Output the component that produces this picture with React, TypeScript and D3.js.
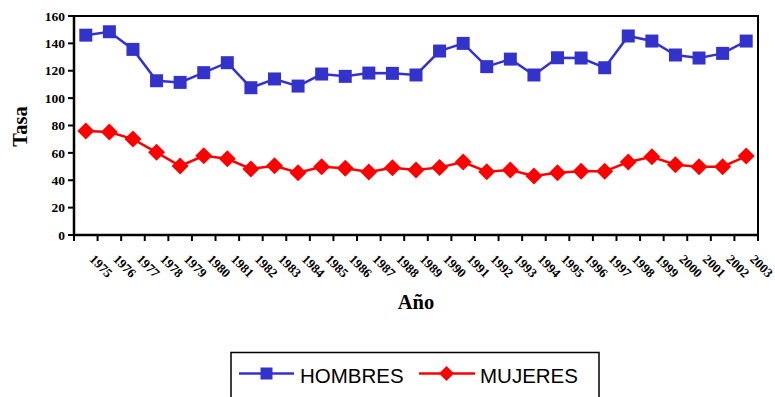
import React from "react";
import * as d3 from "d3";

// Annual rates by sex, 1975–2003
const years: string[] = [
  "1975", "1976", "1977", "1978", "1979", "1980", "1981", "1982", "1983", "1984",
  "1985", "1986", "1987", "1988", "1989", "1990", "1991", "1992", "1993", "1994",
  "1995", "1996", "1997", "1998", "1999", "2000", "2001", "2002", "2003",
];
const hombres: number[] = [
  146, 148.5, 135.6, 112.7, 111.5, 118.6, 125.9, 107.6, 114, 108.8,
  117.6, 115.9, 118.3, 118.1, 116.9, 134.4, 140, 123, 128.5, 116.9,
  129.5, 129.3, 122.2, 145.4, 141.7, 131.5, 129.3, 132.7, 141.7,
];
const mujeres: number[] = [
  76, 75.2, 70.1, 60.4, 50.4, 57.9, 55.7, 48.3, 50.6, 45.5,
  49.9, 48.7, 46, 49.2, 47.5, 49.4, 53.3, 46.3, 47.5, 43.1,
  45.5, 46.5, 46.5, 53.3, 57.2, 51.4, 49.9, 49.9, 57.7,
];
const yTicks: number[] = [0, 20, 40, 60, 80, 100, 120, 140, 160];

const W = 775;
const H = 397;
const plot = { left: 74, right: 758, top: 16, bottom: 235 };

const BLUE = "#3333CC";
const RED = "#FF0000";
const SERIF = "'Liberation Serif', 'Times New Roman', serif";
const SANS = "'Liberation Sans', Arial, sans-serif";

const x = d3.scaleBand<string>().domain(years).range([plot.left, plot.right]).padding(0);
const y = d3.scaleLinear().domain([0, 160]).range([plot.bottom, plot.top]);
const cx = (yr: string) => (x(yr) ?? 0) + x.bandwidth() / 2;

const lineGen = (vals: number[]) =>
  d3.line<number>()
    .x((_, i) => cx(years[i]))
    .y((v) => y(v))(vals) ?? "";

const square = (side: number) => d3.symbol().type(d3.symbolSquare).size(side * side)() ?? "";
const diamond = (r: number) => `M0,${-r}L${r},0L0,${r}L${-r},0Z`;

export default function App() {
  const tickBounds = [...years.map((yr) => x(yr) ?? 0), plot.right];
  return (
    <svg
      width={W}
      height={H}
      style={{ position: "absolute", left: 0, top: 0, background: "#fff" }}
    >
      <rect x={0} y={0} width={W} height={H} fill="#fff" />

      {/* plot frame */}
      <rect
        x={plot.left}
        y={plot.top}
        width={plot.right - plot.left}
        height={plot.bottom - plot.top}
        fill="none"
        stroke="#000"
        strokeWidth={2}
      />

      {/* y axis */}
      <line x1={plot.left} x2={plot.left} y1={plot.top} y2={plot.bottom} stroke="#000" strokeWidth={2.5} />
      {yTicks.map((t) => (
        <g key={t}>
          <line x1={plot.left - 6} x2={plot.left} y1={y(t)} y2={y(t)} stroke="#000" strokeWidth={2} />
          <text
            x={plot.left - 9}
            y={y(t)}
            dy="0.35em"
            textAnchor="end"
            fontFamily={SERIF}
            fontWeight="bold"
            fontSize={13.5}
            fill="#000"
          >
            {t}
          </text>
        </g>
      ))}

      {/* x axis */}
      <line x1={plot.left} x2={plot.right} y1={plot.bottom} y2={plot.bottom} stroke="#000" strokeWidth={2.5} />
      {tickBounds.map((bx, i) => (
        <line key={i} x1={bx} x2={bx} y1={plot.bottom} y2={plot.bottom + 6} stroke="#000" strokeWidth={2} />
      ))}
      {years.map((yr) => {
        const px = cx(yr) + 3;
        const py = 260;
        return (
          <text
            key={yr}
            x={px}
            y={py}
            transform={`rotate(45 ${px} ${py})`}
            fontFamily={SERIF}
            fontWeight="bold"
            fontSize={13}
            fill="#000"
          >
            {yr}
          </text>
        );
      })}

      {/* axis titles */}
      <text
        x={0}
        y={0}
        transform={`translate(27 ${(plot.top + plot.bottom) / 2 + 1}) rotate(-90)`}
        textAnchor="middle"
        fontFamily={SERIF}
        fontWeight="bold"
        fontSize={20.5}
        fill="#000"
      >
        Tasa
      </text>
      <text
        x={416}
        y={309}
        textAnchor="middle"
        fontFamily={SERIF}
        fontWeight="bold"
        fontSize={20.5}
        fill="#000"
      >
        Año
      </text>

      {/* series */}
      <path d={lineGen(hombres)} fill="none" stroke={BLUE} strokeWidth={2.5} />
      {hombres.map((v, i) => (
        <path key={i} d={square(13)} transform={`translate(${cx(years[i])},${y(v)})`} fill={BLUE} />
      ))}
      <path d={lineGen(mujeres)} fill="none" stroke={RED} strokeWidth={2.5} />
      {mujeres.map((v, i) => (
        <path key={i} d={diamond(8.5)} transform={`translate(${cx(years[i])},${y(v)})`} fill={RED} />
      ))}

      {/* legend */}
      <rect x={231} y={352.5} width={368} height={60} fill="#fff" stroke="#000" strokeWidth={1.5} />
      <line x1={239} x2={294} y1={373.5} y2={373.5} stroke={BLUE} strokeWidth={2.5} />
      <path d={square(12)} transform="translate(266.5,373.5)" fill={BLUE} />
      <text x={300} y={383} fontFamily={SANS} fontSize={20.5} fill="#000">
        HOMBRES
      </text>
      <line x1={419} x2={475} y1={373.5} y2={373.5} stroke={RED} strokeWidth={2.5} />
      <path d={diamond(7.5)} transform="translate(446.5,373.5)" fill={RED} />
      <text x={480} y={383} fontFamily={SANS} fontSize={20.5} fill="#000">
        MUJERES
      </text>
    </svg>
  );
}
